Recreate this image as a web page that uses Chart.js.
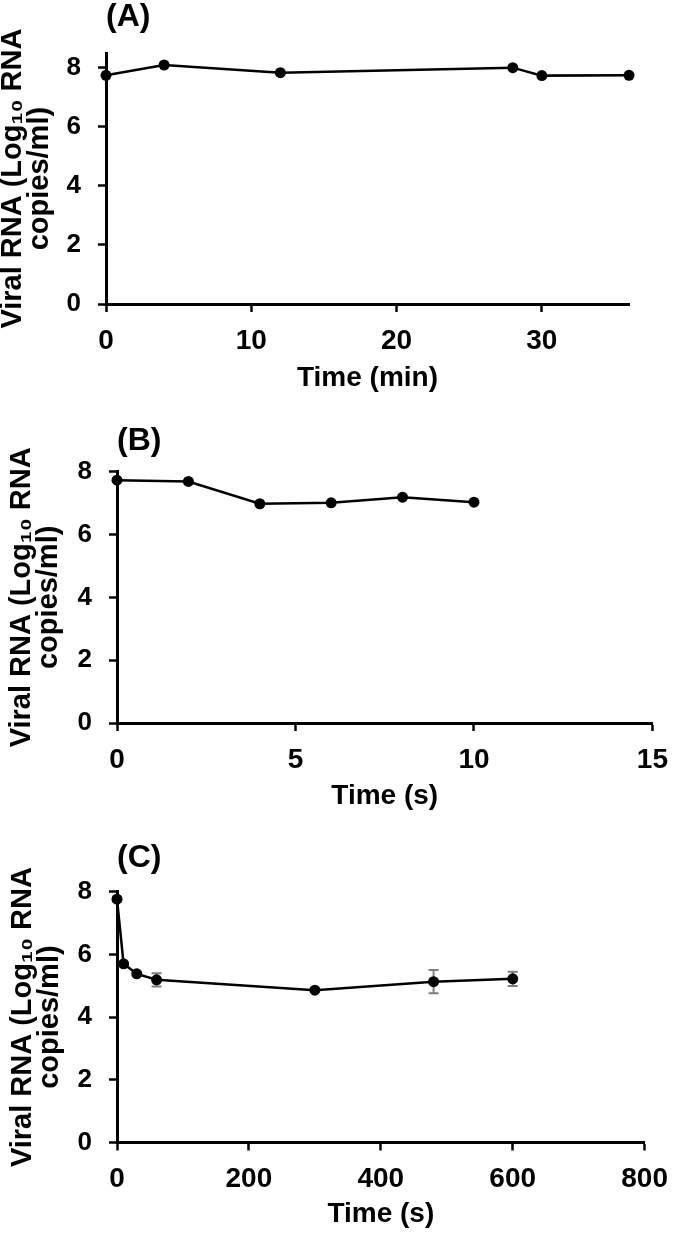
<!DOCTYPE html>
<html lang="en">
<head>
<meta charset="UTF-8">
<title>Viral RNA vs time</title>
<script src="https://cdn.jsdelivr.net/npm/chart.js"></script>
<style>
    body { margin: 0; background: #fff; }
    .panel { position: absolute; left: 0; width: 680px; }
</style>
</head>
<body>

<div class="panel" style="top:0px"><canvas id="chartA" width="680" height="410"></canvas></div>
<div class="panel" style="top:410px"><canvas id="chartB" width="680" height="410"></canvas></div>
<div class="panel" style="top:820px"><canvas id="chartC" width="680" height="413"></canvas></div>

<script>
// (A) time in minutes
const timeA = [0, 4, 12, 28, 30, 36];
const rnaA = [7.75, 8.10, 7.84, 8.01, 7.74, 7.75];

// (B) time in seconds
const timeB = [0, 2, 4, 6, 8, 10];
const rnaB = [7.73, 7.69, 6.98, 7.01, 7.19, 7.03];

// (C) time in seconds, with error bars
const timeC = [0, 10, 30, 60, 300, 480, 600];
const rnaC = [7.76, 5.70, 5.38, 5.19, 4.86, 5.13, 5.22];
const errC = [0.08, 0.05, 0.05, 0.21, 0.05, 0.37, 0.23];

const panelLabels = ['(A)', '(B)', '(C)'];
const xTitles = ['Time (min)', 'Time (s)', 'Time (s)'];
const yTitle = ['Viral RNA (Log\u2081\u2080 RNA', 'copies/ml)'];
const xMax = [36, 15, 800];
const xStep = [10, 5, 200];
const yMax = [8.5, 8, 8];

const FONT = "'Liberation Sans', Arial, sans-serif";

// error bars drawn under the points
const errorBars = {
    id: 'errorBars',
    beforeDatasetsDraw(chart) {
        const errs = chart.options.plugins.errorBars.values;
        if (!errs) return;
        const ctx = chart.ctx;
        const xs = chart.scales.x, ys = chart.scales.y;
        const data = chart.data.datasets[0].data;
        ctx.save();
        ctx.strokeStyle = '#7f7f7f';
        ctx.lineWidth = 2;
        data.forEach((p, i) => {
            const x = xs.getPixelForValue(p.x);
            const top = ys.getPixelForValue(p.y + errs[i]);
            const bot = ys.getPixelForValue(p.y - errs[i]);
            ctx.beginPath();
            ctx.moveTo(x, top); ctx.lineTo(x, bot);
            ctx.moveTo(x - 5, top); ctx.lineTo(x + 5, top);
            ctx.moveTo(x - 5, bot); ctx.lineTo(x + 5, bot);
            ctx.stroke();
        });
        ctx.restore();
    }
};

function makeChart(id, i, times, values, errs, box) {
    const pts = times.map((t, k) => ({ x: t, y: values[k] }));
    return new Chart(document.getElementById(id), {
        type: 'line',
        data: {
            datasets: [{
                data: pts,
                borderColor: '#000',
                backgroundColor: '#000',
                borderWidth: 2.5,
                pointRadius: 5.5,
                pointBackgroundColor: '#000',
                pointBorderWidth: 0,
                tension: 0,
                clip: false
            }]
        },
        plugins: [errorBars],
        options: {
            responsive: false,
            animation: false,
            layout: { padding: { top: box.padTop, right: box.padRight, bottom: box.padBottom, left: 0 } },
            plugins: {
                legend: { display: false },
                tooltip: { enabled: false },
                errorBars: { values: errs },
                title: {
                    display: true,
                    text: panelLabels[i],
                    align: 'start',
                    fullSize: false,
                    color: '#000',
                    font: { family: FONT, size: 32, weight: 'bold', lineHeight: 1.1 },
                    padding: { top: 0, bottom: box.titleGap }
                }
            },
            scales: {
                x: {
                    type: 'linear',
                    min: 0,
                    max: xMax[i],
                    afterFit: s => { s.height = box.xHeight; },
                    ticks: {
                        stepSize: xStep[i],
                        includeBounds: false,
                        color: '#000',
                        padding: 12,
                        maxRotation: 0,
                        font: { family: FONT, size: 28, weight: 'bold' }
                    },
                    grid: { drawOnChartArea: false, tickLength: 8, tickWidth: 2.5, tickColor: '#000' },
                    border: { display: true, color: '#000', width: 3 },
                    title: {
                        display: true,
                        text: xTitles[i],
                        color: '#000',
                        padding: { top: 0, bottom: 0 },
                        font: { family: FONT, size: 28, weight: 'bold', lineHeight: 1.2 }
                    }
                },
                y: {
                    min: 0,
                    max: yMax[i],
                    afterFit: s => { s.width = box.yWidth; },
                    ticks: {
                        stepSize: 2,
                        includeBounds: false,
                        color: '#000',
                        padding: 17,
                        font: { family: FONT, size: 26, weight: 'bold' }
                    },
                    grid: { drawOnChartArea: false, tickLength: 8, tickWidth: 2.5, tickColor: '#000' },
                    border: { display: true, color: '#000', width: 3 },
                    title: {
                        display: true,
                        text: yTitle,
                        color: '#000',
                        padding: { top: box.yTitlePad, bottom: 0 },
                        font: { family: FONT, size: 29, weight: 'bold', lineHeight: 0.92 }
                    }
                }
            }
        }
    });
}

makeChart('chartA', 0, timeA, rnaA, null,
    { padTop: 0, titleGap: 18, padRight: 51, padBottom: 15, xHeight: 91, yWidth: 106, yTitlePad: 0 });
makeChart('chartB', 1, timeB, rnaB, null,
    { padTop: 14, titleGap: 12.5, padRight: 16.5, padBottom: 7, xHeight: 90, yWidth: 117, yTitlePad: 9 });
makeChart('chartC', 2, timeC, rnaC, errC,
    { padTop: 21, titleGap: 15.5, padRight: 24, padBottom: 2, xHeight: 88.5, yWidth: 117, yTitlePad: 10 });
</script>
</body>
</html>
